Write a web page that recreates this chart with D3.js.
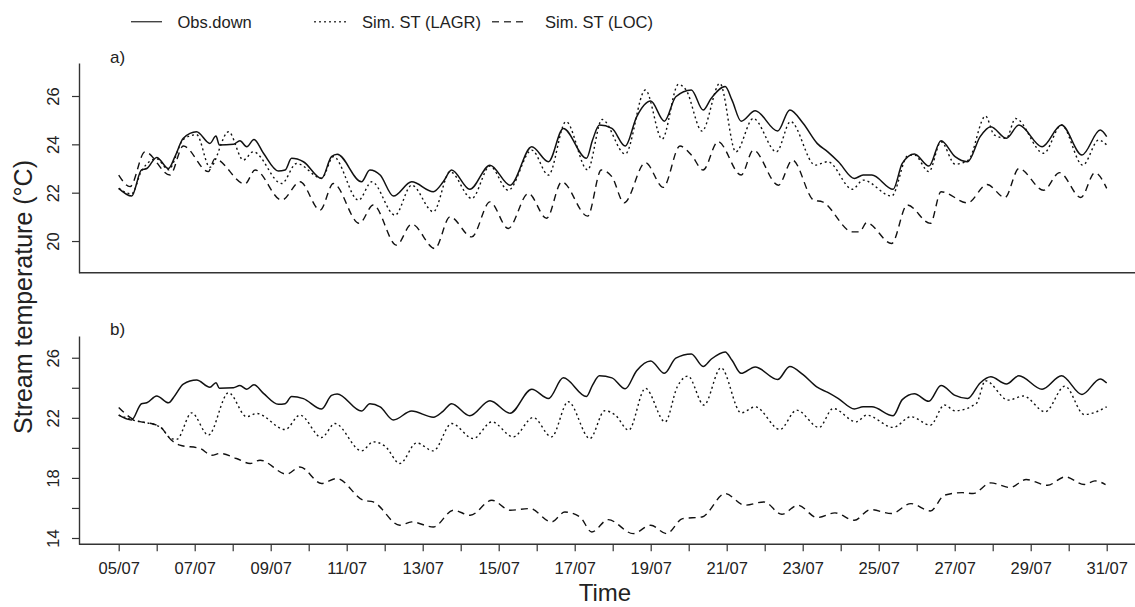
<!DOCTYPE html>
<html>
<head>
<meta charset="utf-8">
<script src="https://cdn.jsdelivr.net/npm/d3@7"></script>
<style>
  body { margin: 0; background: #fff; }
  svg { display: block; font-family: "Liberation Sans", Arial, sans-serif; }
</style>
</head>
<body>
<svg id="chart" width="1135" height="607"></svg>
<script>
// [days since 05/07 00:00, temperature °C]
const obsDown = [[0,22.18],[0.34,21.86],[0.6,22.94],[0.74,23.0],[1.0,23.46],[1.31,23.0],[1.48,23.49],[1.7,24.25],[2.05,24.52],[2.4,24.04],[2.56,24.34],[2.65,23.97],[3.02,24.0],[3.19,24.15],[3.37,23.9],[3.56,24.2],[3.81,23.63],[4.2,22.9],[4.38,22.94],[4.55,23.42],[4.86,23.28],[5.34,22.59],[5.6,23.49],[5.75,23.59],[6.39,22.45],[6.61,22.94],[6.88,22.73],[7.23,21.86],[7.71,22.45],[8.28,22.04],[8.54,22.45],[8.76,22.94],[9.24,22.14],[9.77,23.14],[10.3,22.31],[10.87,23.9],[11.31,23.28],[11.7,24.66],[12.31,23.42],[12.47,24.18],[12.65,24.8],[12.98,24.66],[13.33,23.93],[13.63,25.14],[14.0,25.79],[14.36,24.96],[14.66,25.97],[15.07,26.25],[15.38,25.42],[15.59,25.9],[15.96,26.39],[16.14,25.83],[16.38,24.96],[16.75,25.39],[17.34,24.55],[17.66,25.42],[18.01,24.87],[18.38,24.04],[18.66,23.69],[18.94,23.28],[19.36,22.59],[19.59,22.73],[19.82,22.73],[20.38,22.14],[20.62,23.21],[20.94,23.6],[21.32,23.1],[21.64,24.15],[22.01,23.49],[22.34,23.28],[22.67,24.32],[22.95,24.73],[23.36,24.25],[23.69,24.8],[24.3,23.9],[24.81,24.8],[25.35,23.56],[25.83,24.59],[26.0,24.32]];

const lagrA = [[0,22.18],[0.34,21.95],[0.6,22.9],[1.0,23.4],[1.31,22.95],[1.7,24.2],[2.05,24.4],[2.4,23.05],[2.89,24.52],[3.28,23.35],[3.54,23.69],[4.29,22.38],[4.68,23.21],[5.34,22.6],[5.65,23.49],[6.31,21.69],[6.66,22.45],[7.27,21.07],[7.71,22.31],[8.28,21.21],[8.72,22.87],[9.29,21.76],[9.77,23.1],[10.25,22.1],[10.87,23.76],[11.31,22.73],[11.77,24.94],[12.34,22.94],[12.72,25.03],[13.33,23.6],[13.86,26.25],[14.3,24.22],[14.73,26.48],[14.93,26.25],[15.35,24.55],[15.82,26.52],[16.24,23.69],[16.7,25.07],[17.31,23.69],[17.68,24.94],[18.33,23.14],[18.66,23.28],[19.31,22.14],[19.59,22.52],[20.34,21.86],[20.76,23.52],[20.94,23.56],[21.32,22.87],[21.64,24.11],[22.01,23.18],[22.36,23.35],[22.81,25.17],[23.04,24.39],[23.36,24.25],[23.6,25.07],[24.34,23.63],[24.81,24.8],[25.37,23.14],[25.79,24.18],[26.0,23.97]];

const locA = [[0,22.73],[0.3,22.25],[0.69,23.69],[1.35,22.73],[1.7,23.93],[2.36,22.87],[2.53,23.4],[3.32,22.36],[3.59,22.94],[4.29,21.69],[4.77,22.45],[5.3,21.28],[5.65,22.38],[6.33,20.73],[6.7,21.49],[7.31,19.83],[7.71,20.7],[8.32,19.69],[8.72,21.0],[9.29,20.17],[9.77,21.62],[10.25,20.52],[10.78,21.97],[11.26,20.94],[11.66,22.45],[12.34,21.03],[12.7,22.94],[12.98,22.66],[13.3,21.58],[13.86,23.24],[14.33,22.22],[14.77,23.93],[15.07,23.56],[15.38,22.94],[15.77,24.11],[16.38,22.73],[16.7,23.76],[17.36,22.31],[17.73,23.35],[18.29,21.69],[18.52,21.62],[19.31,20.38],[19.5,20.38],[19.68,20.76],[20.34,19.9],[20.75,21.49],[21.36,20.73],[21.64,22.04],[22.34,21.58],[22.85,22.34],[23.32,21.8],[23.69,23.0],[24.34,22.1],[24.76,22.83],[25.32,21.8],[25.69,22.83],[26.0,22.18]];

const lagrB = [[0,22.18],[0.38,21.85],[1.09,21.4],[1.39,20.6],[1.53,20.58],[1.92,22.33],[2.36,20.85],[2.89,23.67],[3.37,22.07],[3.63,22.29],[4.38,21.22],[4.77,22.18],[5.34,20.69],[5.69,21.62],[6.39,19.8],[6.7,20.4],[7.01,20.11],[7.4,18.96],[7.84,20.33],[8.28,19.8],[8.76,21.62],[9.33,20.62],[9.82,21.73],[10.38,20.73],[10.91,22.02],[11.39,20.73],[11.83,23.07],[12.4,20.62],[12.79,22.47],[13.07,22.18],[13.42,21.18],[13.86,23.96],[14.38,21.73],[14.7,24.07],[14.98,24.78],[15.4,22.85],[15.85,25.33],[16.38,22.33],[16.75,22.73],[17.4,21.22],[17.84,22.51],[18.43,21.36],[18.8,22.62],[19.41,21.73],[19.68,22.18],[20.38,21.36],[20.85,22.07],[21.36,21.51],[21.73,22.85],[22.01,22.47],[22.57,22.96],[22.81,24.47],[23.41,23.18],[23.81,23.45],[24.38,22.4],[24.9,24.11],[25.41,22.22],[26.0,22.73]];

const locB = [[0,22.69],[0.34,21.96],[1.09,21.4],[1.39,20.51],[1.61,20.18],[2.14,19.96],[2.45,19.51],[2.67,19.63],[3.1,19.29],[3.46,18.96],[3.72,19.18],[4.42,18.25],[4.77,18.73],[5.34,17.63],[5.74,17.96],[6.44,16.51],[6.7,16.4],[7.4,14.85],[7.71,15.07],[8.28,14.73],[8.81,15.85],[9.25,15.51],[9.82,16.51],[10.3,15.85],[10.82,15.96],[11.39,15.07],[11.74,15.73],[12.14,15.4],[12.45,14.4],[12.88,15.22],[13.54,14.29],[14.0,14.85],[14.42,14.29],[14.84,15.29],[15.35,15.4],[15.96,16.96],[16.47,16.18],[16.98,16.4],[17.45,15.58],[17.87,16.18],[18.38,15.36],[18.85,15.67],[19.36,15.18],[19.78,15.89],[20.34,15.63],[20.85,16.29],[21.36,15.8],[21.73,16.85],[22.2,17.02],[22.48,16.96],[22.95,17.67],[23.46,17.36],[23.88,17.89],[24.44,17.51],[24.91,18.07],[25.41,17.56],[25.69,17.8],[25.97,17.56]];

const legendLabels = ["Obs.down", "Sim. ST (LAGR)", "Sim. ST (LOC)"];
const panelLabels = ["a)", "b)"];
const yTicksA = [20, 22, 24, 26];
const yTicksB = [14, 16, 18, 20, 22, 24, 26];
const yLabelsB = [14, 18, 22, 26];

const svg = d3.select("#chart");
const ink = "#222";
const dashes = [null, "2,3", "7,5"];

const t0 = Date.UTC(2014, 6, 5);
const toDate = d => new Date(t0 + d * 864e5);
const x = d3.scaleUtc().domain([toDate(0), toDate(26)]).range([118.7, 1106.7]);
const xLeft = 79, xRight = 1135;

const panels = [
  { top: 63, bottom: 272.7, domain: [18.69, 27.365], ticks: yTicksA, labels: yTicksA,
    series: [obsDown, lagrA, locA], label: panelLabels[0], labelY: 63 },
  { top: 336, bottom: 544.3, domain: [13.58, 27.447], ticks: yTicksB, labels: yLabelsB,
    series: [obsDown, lagrB, locB], label: panelLabels[1], labelY: 335 }
];

panels.forEach((p, pi) => {
  const y = d3.scaleLinear().domain(p.domain).range([p.bottom, p.top]);
  const g = svg.append("g");

  const line = d3.line()
    .x(d => x(toDate(d[0])))
    .y(d => y(d[1]))
    .curve(d3.curveMonotoneX);

  p.series.forEach((s, i) => {
    g.append("path")
      .datum(s)
      .attr("d", line)
      .attr("fill", "none")
      .attr("stroke", "#111")
      .attr("stroke-width", i === 0 ? 1.5 : 1.4)
      .attr("stroke-dasharray", dashes[i]);
  });

  // left axis
  const yAxis = d3.axisLeft(y)
    .tickValues(p.ticks)
    .tickSize(7)
    .tickSizeOuter(0)
    .tickFormat(d => p.labels.includes(d) ? d : "");
  const ya = g.append("g").attr("transform", `translate(${xLeft},0)`).call(yAxis);
  ya.select(".domain").attr("stroke", "#333").attr("stroke-width", 1.4);
  ya.selectAll(".tick line").attr("stroke", "#333").attr("stroke-width", 1.2);
  ya.selectAll(".tick text")
    .attr("transform", "rotate(-90)")
    .attr("x", 0).attr("y", -20).attr("dy", 0)
    .attr("text-anchor", "middle")
    .attr("font-size", 16.5)
    .attr("fill", ink);

  // bottom box line
  g.append("line")
    .attr("x1", xLeft).attr("x2", xRight)
    .attr("y1", p.bottom).attr("y2", p.bottom)
    .attr("stroke", "#333").attr("stroke-width", 1.4);

  g.append("text")
    .attr("x", 110).attr("y", p.labelY)
    .attr("font-size", 17).attr("fill", ink)
    .text(p.label);

  if (pi === 1) {
    const days = d3.utcDay.range(toDate(0), toDate(26.5));
    const fmt = d3.utcFormat("%d/%m");
    const xAxis = d3.axisBottom(x)
      .tickValues(days)
      .tickSize(7)
      .tickSizeOuter(0)
      .tickFormat((d, i) => i % 2 === 0 ? fmt(d) : "");
    const xa = g.append("g").attr("transform", `translate(0,${p.bottom})`).call(xAxis);
    xa.select(".domain").remove();
    xa.selectAll(".tick line").attr("stroke", "#333").attr("stroke-width", 1.2);
    xa.selectAll(".tick text")
      .attr("y", 30).attr("dy", 0)
      .attr("font-size", 16.5)
      .attr("fill", ink);
  }
});

// axis titles
svg.append("text")
  .attr("transform", "translate(32,297) rotate(-90)")
  .attr("text-anchor", "middle")
  .attr("font-size", 25)
  .attr("fill", ink)
  .text("Stream temperature (°C)");

svg.append("text")
  .attr("x", 605).attr("y", 601)
  .attr("text-anchor", "middle")
  .attr("font-size", 24)
  .attr("fill", ink)
  .text("Time");

// legend
const legendX = [131, 314, 492];
const legend = svg.append("g");
legendLabels.forEach((lab, i) => {
  legend.append("line")
    .attr("x1", legendX[i]).attr("x2", legendX[i] + (i === 0 ? 31 : 33))
    .attr("y1", 21.7).attr("y2", 21.7)
    .attr("stroke", "#444").attr("stroke-width", 1.4)
    .attr("stroke-dasharray", dashes[i]);
  legend.append("text")
    .attr("x", [177.5, 362, 545][i]).attr("y", 28)
    .attr("font-size", 16.5).attr("fill", ink)
    .text(lab);
});
</script>
</body>
</html>
